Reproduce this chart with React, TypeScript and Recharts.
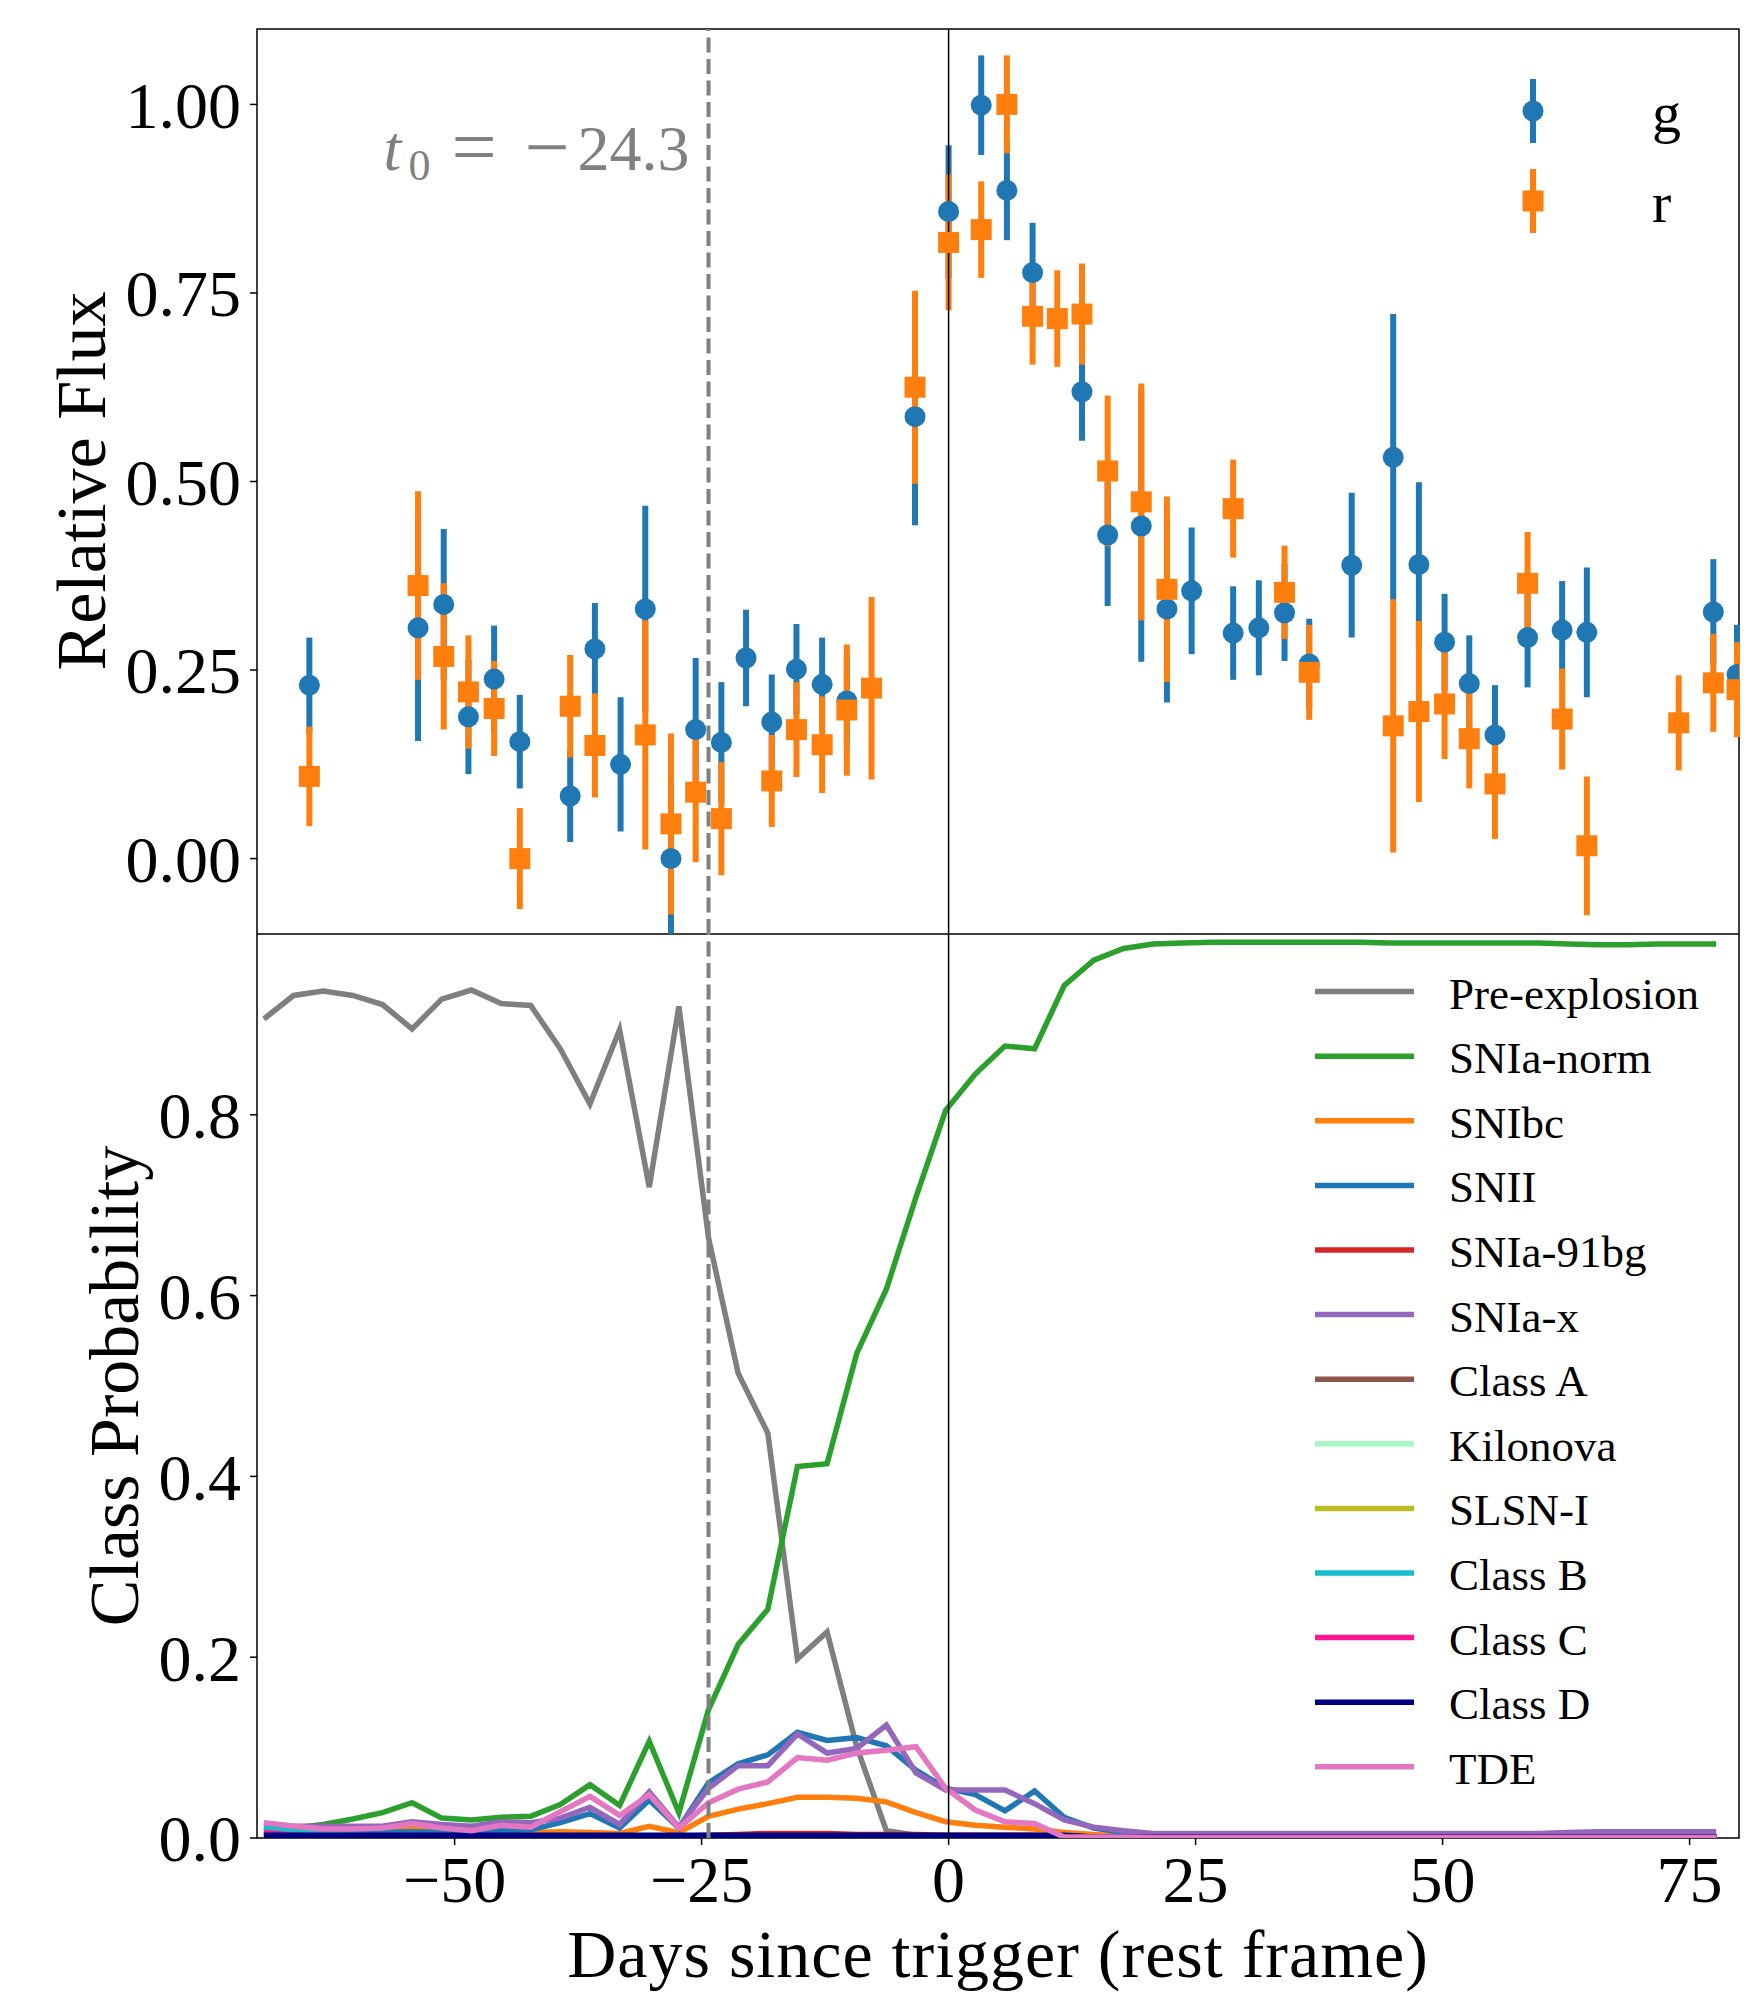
import React from 'react';
import {
  ComposedChart,
  LineChart,
  Line,
  Scatter,
  ErrorBar,
  XAxis,
  YAxis,
  ReferenceLine,
  ReferenceArea,
  Legend,
} from 'recharts';

const FONT = '"Liberation Serif", "DejaVu Serif", serif';
const BLUE = '#1f77b4';
const ORANGE = '#ff7f0e';
const W = 1757;
const PLOT_RIGHT = W - 18;

// light curve, g band
const gDays = [-64.7, -53.7, -51.1, -48.6, -46.0, -43.4, -38.3, -35.8, -33.2, -30.7, -28.1, -25.6, -23.0, -20.5, -17.9, -15.4, -12.8, -10.3, -3.4, 0.0, 3.3, 5.9, 8.5, 13.5, 16.1, 19.5, 22.1, 24.6, 28.8, 31.4, 34.0, 36.5, 40.8, 45.0, 47.6, 50.2, 52.7, 55.3, 58.6, 62.1, 64.6, 77.4, 79.8];
const gFlux = [0.230, 0.306, 0.337, 0.188, 0.238, 0.155, 0.083, 0.278, 0.125, 0.331, 0.000, 0.171, 0.154, 0.266, 0.181, 0.251, 0.231, 0.209, 0.586, 0.858, 0.999, 0.886, 0.777, 0.619, 0.429, 0.441, 0.331, 0.355, 0.299, 0.306, 0.326, 0.258, 0.389, 0.532, 0.390, 0.287, 0.232, 0.164, 0.293, 0.303, 0.300, 0.327, 0.244];
const gErr = [0.063, 0.150, 0.100, 0.076, 0.071, 0.062, 0.061, 0.061, 0.089, 0.137, 0.107, 0.095, 0.080, 0.064, 0.063, 0.060, 0.062, 0.060, 0.144, 0.088, 0.066, 0.066, 0.066, 0.065, 0.094, 0.180, 0.124, 0.084, 0.062, 0.063, 0.064, 0.060, 0.096, 0.190, 0.109, 0.064, 0.064, 0.066, 0.066, 0.065, 0.086, 0.070, 0.066];

// light curve, r band
const rDays = [-64.7, -53.7, -51.1, -48.6, -46.0, -43.4, -38.3, -35.8, -30.7, -28.1, -25.6, -23.0, -17.9, -15.4, -12.8, -10.3, -7.8, -3.4, 0.0, 3.3, 5.9, 8.5, 11.0, 13.5, 16.1, 19.5, 22.1, 28.8, 34.0, 36.5, 45.0, 47.6, 50.2, 52.7, 55.3, 58.6, 62.1, 64.6, 73.9, 77.4, 79.8];
const rFlux = [0.109, 0.362, 0.268, 0.221, 0.199, 0.000, 0.202, 0.150, 0.164, 0.046, 0.088, 0.053, 0.103, 0.171, 0.151, 0.197, 0.226, 0.625, 0.817, 0.834, 1.000, 0.719, 0.716, 0.722, 0.514, 0.473, 0.357, 0.464, 0.353, 0.247, 0.176, 0.195, 0.205, 0.159, 0.099, 0.365, 0.185, 0.017, 0.180, 0.233, 0.224];
const rErr = [0.066, 0.125, 0.097, 0.075, 0.063, 0.067, 0.068, 0.069, 0.152, 0.120, 0.093, 0.075, 0.061, 0.063, 0.064, 0.087, 0.121, 0.128, 0.090, 0.064, 0.065, 0.064, 0.064, 0.067, 0.100, 0.157, 0.123, 0.065, 0.062, 0.063, 0.168, 0.120, 0.073, 0.066, 0.073, 0.068, 0.067, 0.092, 0.063, 0.065, 0.063];

const t0 = -24.3;

const dayTicks = [-50, -25, 0, 25, 50, 75];
const fluxTicks = [0, 0.25, 0.5, 0.75, 1];
const probTicks = [0, 0.2, 0.4, 0.6, 0.8];

// classifier output
const probDays = [-69.3, -66.3, -63.3, -60.3, -57.3, -54.3, -51.3, -48.3, -45.3, -42.3, -39.3, -36.3, -33.3, -30.3, -27.3, -24.3, -21.3, -18.3, -15.3, -12.3, -9.3, -6.3, -3.3, -0.3, 2.7, 5.7, 8.7, 11.7, 14.7, 17.7, 20.7, 23.7, 26.7, 29.7, 32.7, 35.7, 38.7, 41.7, 44.7, 47.7, 50.7, 53.7, 56.7, 59.7, 62.7, 65.7, 68.7, 71.7, 74.7, 77.7];
const preExplosion = [0.906, 0.932, 0.937, 0.932, 0.922, 0.895, 0.928, 0.938, 0.923, 0.921, 0.873, 0.812, 0.894, 0.720, 0.920, 0.664, 0.514, 0.448, 0.198, 0.228, 0.101, 0.008, 0.003, 0.001, 0.001, 0.001, 0.001, 0, 0, 0, 0, 0, 0, 0, 0, 0, 0, 0, 0, 0, 0, 0, 0, 0, 0, 0, 0, 0, 0, 0];
const snIaNorm = [0.008, 0.011, 0.015, 0.021, 0.028, 0.039, 0.022, 0.020, 0.023, 0.024, 0.037, 0.059, 0.036, 0.107, 0.028, 0.142, 0.214, 0.253, 0.411, 0.414, 0.536, 0.607, 0.709, 0.805, 0.845, 0.876, 0.873, 0.943, 0.971, 0.984, 0.989, 0.990, 0.991, 0.991, 0.991, 0.991, 0.991, 0.991, 0.990, 0.990, 0.990, 0.990, 0.990, 0.990, 0.989, 0.988, 0.988, 0.989, 0.989, 0.989];
const snIbc = [0.004, 0.004, 0.004, 0.005, 0.005, 0.011, 0.006, 0.005, 0.005, 0.006, 0.007, 0.006, 0.005, 0.013, 0.006, 0.024, 0.032, 0.038, 0.045, 0.045, 0.044, 0.040, 0.028, 0.018, 0.014, 0.012, 0.010, 0.006, 0.004, 0.002, 0.001, 0.001, 0.001, 0.001, 0.001, 0.001, 0.001, 0.001, 0.001, 0.001, 0.001, 0.001, 0.001, 0.001, 0.001, 0.001, 0.001, 0.001, 0.001, 0.001];
const snII = [0.008, 0.006, 0.005, 0.005, 0.006, 0.007, 0.006, 0.007, 0.008, 0.009, 0.017, 0.027, 0.011, 0.042, 0.011, 0.061, 0.082, 0.092, 0.117, 0.108, 0.111, 0.102, 0.075, 0.055, 0.048, 0.030, 0.052, 0.023, 0.011, 0.006, 0.004, 0.003, 0.002, 0.002, 0.002, 0.002, 0.002, 0.002, 0.002, 0.002, 0.002, 0.002, 0.002, 0.002, 0.002, 0.002, 0.002, 0.002, 0.002, 0.002];
const snIa91bg = [0.002, 0.002, 0.002, 0.002, 0.002, 0.002, 0.002, 0.002, 0.002, 0.002, 0.002, 0.002, 0.002, 0.002, 0.002, 0.003, 0.004, 0.005, 0.005, 0.005, 0.004, 0.004, 0.004, 0.003, 0.003, 0.003, 0.003, 0.002, 0.001, 0.001, 0.001, 0.001, 0.001, 0.001, 0.001, 0.001, 0.001, 0.001, 0.001, 0.001, 0.001, 0.001, 0.001, 0.001, 0.001, 0.001, 0.001, 0.001, 0.001, 0.001];
const snIaX = [0.016, 0.013, 0.013, 0.013, 0.013, 0.018, 0.015, 0.013, 0.018, 0.017, 0.022, 0.034, 0.015, 0.051, 0.012, 0.055, 0.080, 0.080, 0.115, 0.094, 0.099, 0.125, 0.072, 0.053, 0.053, 0.053, 0.038, 0.020, 0.012, 0.008, 0.005, 0.005, 0.005, 0.005, 0.005, 0.005, 0.005, 0.005, 0.005, 0.005, 0.005, 0.005, 0.005, 0.005, 0.006, 0.007, 0.007, 0.007, 0.007, 0.007];
const classA = [0.001, 0.001, 0.001, 0.001, 0.001, 0.001, 0.001, 0.001, 0.001, 0.001, 0.001, 0.001, 0.001, 0.001, 0.001, 0.001, 0.002, 0.002, 0.002, 0.002, 0.002, 0.002, 0.001, 0.001, 0.001, 0.001, 0.001, 0.001, 0.001, 0.001, 0.001, 0.001, 0.001, 0.001, 0.001, 0.001, 0.001, 0.001, 0.001, 0.001, 0.001, 0.001, 0.001, 0.001, 0.001, 0.001, 0.001, 0.001, 0.001, 0.001];
const kilonova = [0.001, 0.001, 0.001, 0.001, 0.001, 0.001, 0.001, 0.001, 0.001, 0.001, 0.001, 0.001, 0.001, 0.001, 0.001, 0.001, 0.001, 0.001, 0.001, 0.001, 0.001, 0.001, 0.001, 0.001, 0.001, 0.001, 0.001, 0.001, 0.001, 0.001, 0.001, 0.001, 0.001, 0.001, 0.001, 0.001, 0.001, 0.001, 0.001, 0.001, 0.001, 0.001, 0.001, 0.001, 0.001, 0.001, 0.001, 0.001, 0.001, 0.001];
const slsnI = [0.001, 0.001, 0.001, 0.001, 0.001, 0.001, 0.001, 0.001, 0.001, 0.001, 0.001, 0.001, 0.001, 0.001, 0.001, 0.001, 0.001, 0.001, 0.001, 0.001, 0.001, 0.001, 0.001, 0.001, 0.001, 0.001, 0.001, 0.001, 0.001, 0.001, 0.001, 0.001, 0.001, 0.001, 0.001, 0.001, 0.001, 0.001, 0.001, 0.001, 0.001, 0.001, 0.001, 0.001, 0.001, 0.001, 0.001, 0.001, 0.001, 0.001];
const classB = [0.011, 0.007, 0.004, 0.003, 0.002, 0.002, 0.002, 0.002, 0.002, 0.002, 0.002, 0.002, 0.002, 0.002, 0.002, 0.002, 0.002, 0.002, 0.002, 0.002, 0.002, 0.002, 0.002, 0.002, 0.002, 0.002, 0.002, 0.002, 0.001, 0.001, 0.001, 0.001, 0.001, 0.001, 0.001, 0.001, 0.001, 0.001, 0.001, 0.001, 0.001, 0.001, 0.001, 0.001, 0.001, 0.001, 0.001, 0.001, 0.001, 0.001];
const classC = [0.006, 0.003, 0.002, 0.002, 0.002, 0.002, 0.002, 0.002, 0.002, 0.002, 0.002, 0.002, 0.002, 0.002, 0.002, 0.002, 0.002, 0.002, 0.002, 0.002, 0.002, 0.002, 0.002, 0.002, 0.002, 0.002, 0.002, 0.002, 0.001, 0.001, 0.001, 0.001, 0.001, 0.001, 0.001, 0.001, 0.001, 0.001, 0.001, 0.001, 0.001, 0.001, 0.001, 0.001, 0.001, 0.001, 0.001, 0.001, 0.001, 0.001];
const classD = [0.003, 0.003, 0.003, 0.003, 0.003, 0.003, 0.003, 0.003, 0.003, 0.003, 0.003, 0.003, 0.003, 0.003, 0.003, 0.003, 0.003, 0.003, 0.003, 0.003, 0.003, 0.003, 0.003, 0.003, 0.003, 0.003, 0.003, 0.003, 0.001, 0.001, 0.001, 0.001, 0.001, 0.001, 0.001, 0.001, 0.001, 0.001, 0.001, 0.001, 0.001, 0.001, 0.001, 0.001, 0.001, 0.001, 0.001, 0.001, 0.001, 0.001];
const tde = [0.017, 0.013, 0.010, 0.010, 0.011, 0.016, 0.011, 0.008, 0.014, 0.012, 0.029, 0.046, 0.025, 0.048, 0.011, 0.039, 0.054, 0.062, 0.089, 0.086, 0.094, 0.097, 0.101, 0.055, 0.031, 0.018, 0.016, 0.001, 0.001, 0.001, 0.0005, 0.0005, 0.0005, 0.0005, 0.0005, 0.0005, 0.0005, 0.0005, 0.0005, 0.0005, 0.0005, 0.0005, 0.0005, 0.0005, 0.0005, 0.0005, 0.0005, 0.0005, 0.0005, 0.0005];

const classes = [
  { key: 'pre', name: 'Pre-explosion', color: '#7f7f7f', values: preExplosion },
  { key: 'norm', name: 'SNIa-norm', color: '#2ca02c', values: snIaNorm },
  { key: 'ibc', name: 'SNIbc', color: ORANGE, values: snIbc },
  { key: 'ii', name: 'SNII', color: BLUE, values: snII },
  { key: 'bg', name: 'SNIa-91bg', color: '#d62728', values: snIa91bg },
  { key: 'x', name: 'SNIa-x', color: '#9467bd', values: snIaX },
  { key: 'a', name: 'Class A', color: '#8c564b', values: classA },
  { key: 'kn', name: 'Kilonova', color: '#a6f7c4', values: kilonova },
  { key: 'slsn', name: 'SLSN-I', color: '#bcbd22', values: slsnI },
  { key: 'b', name: 'Class B', color: '#17becf', values: classB },
  { key: 'c', name: 'Class C', color: '#ff1493', values: classC },
  { key: 'd', name: 'Class D', color: '#000080', values: classD },
  { key: 'tde', name: 'TDE', color: '#e377c2', values: tde },
];

const gBand = gDays.map((x, i) => ({ x, y: gFlux[i], err: gErr[i] }));
const rBand = rDays.map((x, i) => ({ x, y: rFlux[i], err: rErr[i] }));
const probRows = probDays.map((day, i) => {
  const row: Record<string, number> = { day };
  classes.forEach((c) => {
    row[c.key] = c.values[i];
  });
  return row;
});

const fmt = (v: number, d: number) => (v < 0 ? '\u2212' : '') + Math.abs(v).toFixed(d);

const tickStyle = { fill: '#000', fontSize: 66, fontFamily: FONT };
const tickLineStyle = { stroke: '#000', strokeWidth: 1.5 };

// markers are cut at the right spine like the original
const NoMark = () => <g />;
const GMark = (p: any) => (
  <g clipPath="url(#flux-clip)">
    <circle cx={p.cx} cy={p.cy} r={10.5} fill={BLUE} />
  </g>
);
const RMark = (p: any) => (
  <g clipPath="url(#flux-clip)">
    <rect x={p.cx - 10.5} y={p.cy - 10.5} width={21} height={21} fill={ORANGE} />
  </g>
);

const bands = [
  { name: 'g', color: BLUE, mark: 'circle' },
  { name: 'r', color: ORANGE, mark: 'square' },
];

function BandLegend() {
  return (
    <svg width={260} height={200} style={{ overflow: 'visible' }}>
      {bands.map((b, i) => {
        const cy = 51 + i * 90;
        return (
          <g key={b.name}>
            <line x1={43} x2={43} y1={cy - 32} y2={cy + 32} stroke={b.color} strokeWidth={6} />
            {b.mark === 'circle' ? (
              <circle cx={43} cy={cy} r={10.5} fill={b.color} />
            ) : (
              <rect x={32.5} y={cy - 10.5} width={21} height={21} fill={b.color} />
            )}
            <text x={162} y={cy + 21} fontSize={58} fontFamily={FONT} fill="#000">
              {b.name}
            </text>
          </g>
        );
      })}
    </svg>
  );
}

function ClassLegend() {
  return (
    <svg width={440} height={830} style={{ overflow: 'visible' }}>
      {classes.map((c, i) => {
        const y = 37.6 + i * 64.6;
        return (
          <g key={c.key}>
            <line x1={15} x2={114} y1={y} y2={y} stroke={c.color} strokeWidth={5.5} />
            <text x={149} y={y + 17} fontSize={45} fontFamily={FONT} fill="#000">
              {c.name}
            </text>
          </g>
        );
      })}
    </svg>
  );
}

const T0Label = (props: any) => {
  const lx = props?.viewBox?.x ?? 707.7;
  return (
    <g>
      <defs>
        <clipPath id="flux-clip">
          <rect x={0} y={0} width={PLOT_RIGHT} height={934} />
        </clipPath>
      </defs>
      <text x={lx - 325} y={170} fill="#808080" fontSize={64} fontFamily={FONT}>
        <tspan fontStyle="italic">t</tspan>
        <tspan x={lx - 300} dy={10} fontSize={44}>0</tspan>
        <tspan x={lx - 257} dy={-6} fontSize={80}>=</tspan>
        <tspan x={lx - 184} fontSize={80}>{'\u2212'}</tspan>
        <tspan x={lx - 131} dy={-4}>24.3</tspan>
      </text>
    </g>
  );
};

const FluxTitle = () => (
  <text x={81} y={481} transform="rotate(-90 81 481)" textAnchor="middle" dominantBaseline="central" fontSize={70} fontFamily={FONT} fill="#000">
    Relative Flux
  </text>
);

const ProbTitle = () => (
  <text x={114} y={452} transform="rotate(-90 114 452)" textAnchor="middle" dominantBaseline="central" fontSize={70} fontFamily={FONT} fill="#000">
    Class Probability
  </text>
);

const DaysTitle = () => (
  <text x={998} y={1043} textAnchor="middle" fontSize={68} letterSpacing={1} fontFamily={FONT} fill="#000">
    Days since trigger (rest frame)
  </text>
);

export default function App() {
  return (
    <div style={{ position: 'absolute', left: 0, top: 0, width: W, height: 1994, background: '#fff', fontFamily: FONT }}>
      <div style={{ position: 'absolute', left: 0, top: 0 }}>
        <ComposedChart width={W} height={934} margin={{ top: 29, right: 18, bottom: 0, left: 137 }}>
          <XAxis type="number" dataKey="x" domain={[-70, 80]} allowDataOverflow hide />
          <YAxis
            type="number"
            dataKey="y"
            domain={[-0.1, 1.1]}
            allowDataOverflow
            ticks={fluxTicks}
            interval={0}
            width={120}
            axisLine={false}
            tickSize={7}
            tickMargin={9}
            tickLine={tickLineStyle}
            tick={tickStyle}
            tickFormatter={(v: number) => fmt(v, 2)}
            label={FluxTitle}
          />
          <ReferenceLine x={t0} stroke="none" label={T0Label} />
          <Scatter data={gBand} dataKey="y" fill={BLUE} shape={NoMark} legendType="none" isAnimationActive={false}>
            <ErrorBar dataKey="err" direction="y" width={0} stroke={BLUE} strokeWidth={6} />
          </Scatter>
          <Scatter data={rBand} dataKey="y" fill={ORANGE} shape={NoMark} legendType="none" isAnimationActive={false}>
            <ErrorBar dataKey="err" direction="y" width={0} stroke={ORANGE} strokeWidth={6} />
          </Scatter>
          <Scatter name="g" data={gBand} dataKey="y" fill={BLUE} shape={GMark} isAnimationActive={false} />
          <Scatter name="r" data={rBand} dataKey="y" fill={ORANGE} shape={RMark} isAnimationActive={false} />
          <ReferenceLine x={0} stroke="#000" strokeWidth={1.5} />
          <ReferenceLine x={t0} stroke="#808080" strokeWidth={4} strokeDasharray="15 6.5" />
          <ReferenceArea x1={-70} x2={80} y1={-0.1} y2={1.1} fill="none" stroke="#000" strokeWidth={1.5} />
          <Legend
            layout="vertical"
            align="center"
            verticalAlign="middle"
            content={BandLegend}
            wrapperStyle={{ left: 1490, top: 60, width: 260, height: 200 }}
          />
        </ComposedChart>
      </div>
      <div style={{ position: 'absolute', left: 0, top: 934 }}>
        <LineChart width={W} height={1060} data={probRows} margin={{ top: 0, right: 18, bottom: 0, left: 137 }}>
          <XAxis
            type="number"
            dataKey="day"
            domain={[-70, 80]}
            allowDataOverflow
            ticks={dayTicks}
            interval={0}
            height={156}
            axisLine={false}
            tickSize={7}
            tickMargin={10}
            tickLine={tickLineStyle}
            tick={tickStyle}
            tickFormatter={(v: number) => fmt(v, 0)}
            label={DaysTitle}
          />
          <YAxis
            type="number"
            domain={[0, 1]}
            allowDataOverflow
            ticks={probTicks}
            interval={0}
            width={120}
            axisLine={false}
            tickSize={7}
            tickMargin={9}
            tickLine={tickLineStyle}
            tick={tickStyle}
            tickFormatter={(v: number) => fmt(v, 1)}
            label={ProbTitle}
          />
          {classes.map((c) => (
            <Line
              key={c.key}
              type="linear"
              dataKey={c.key}
              name={c.name}
              stroke={c.color}
              strokeWidth={5.5}
              dot={false}
              activeDot={false}
              isAnimationActive={false}
            />
          ))}
          <ReferenceLine x={0} stroke="#000" strokeWidth={1.5} />
          <ReferenceLine x={t0} stroke="#808080" strokeWidth={4} strokeDasharray="15 6.5" />
          <ReferenceArea x1={-70} x2={80} y1={0} y2={1} fill="none" stroke="#000" strokeWidth={1.5} />
          <Legend
            layout="vertical"
            align="center"
            verticalAlign="middle"
            content={ClassLegend}
            wrapperStyle={{ left: 1300, top: 20, width: 440, height: 830 }}
          />
        </LineChart>
      </div>
    </div>
  );
}
